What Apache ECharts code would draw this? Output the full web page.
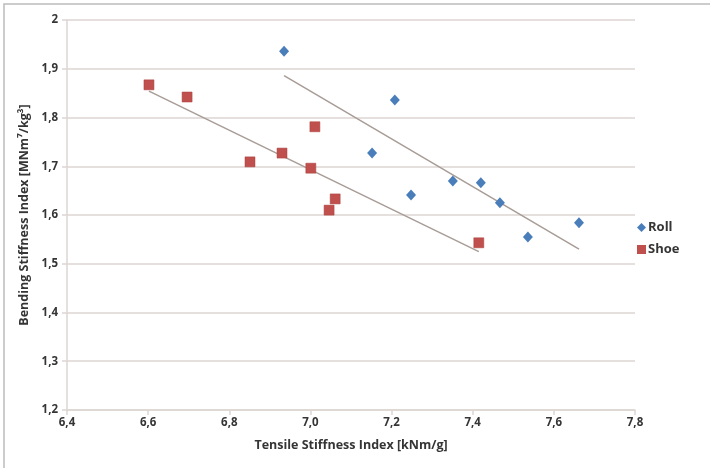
<!DOCTYPE html>
<html>
<head>
<meta charset="utf-8">
<script src="https://cdn.jsdelivr.net/npm/echarts@6/dist/echarts.min.js"></script>
<style>
  html, body { margin: 0; padding: 0; background: #ffffff; }
  #chart { width: 710px; height: 468px; }
</style>
</head>
<body>
<div id="chart"></div>
<script>
// Tensile vs. bending stiffness, roll press vs. shoe press
const rollPoints = [
  [6.935, 1.936], [7.208, 1.836], [7.152, 1.727], [7.248, 1.641], [7.351, 1.670],
  [7.420, 1.666], [7.467, 1.625], [7.536, 1.555], [7.662, 1.584]
];
const shoePoints = [
  [6.602, 1.867], [6.696, 1.842], [6.851, 1.709], [6.930, 1.727], [7.011, 1.781],
  [7.001, 1.696], [7.046, 1.610], [7.061, 1.633], [7.415, 1.543]
];
// Linear trend lines (start / end)
const rollTrend = [[6.935, 1.886], [7.662, 1.530]];
const shoeTrend = [[6.602, 1.854], [7.415, 1.525]];

const xTicks = ['6,4', '6,6', '6,8', '7,0', '7,2', '7,4', '7,6', '7,8'];
const yTicks = ['1,2', '1,3', '1,4', '1,5', '1,6', '1,7', '1,8', '1,9', '2'];

const xMin = 6.4, xStep = 0.2;
const yMin = 1.2, yStep = 0.1;

const font = '"Open Sans", "Liberation Sans", sans-serif';
const textColor = '#353535';
const gridColor = '#ddd6d3';

const chart = echarts.init(document.getElementById('chart'), null, { renderer: 'canvas' });

chart.setOption({
  backgroundColor: '#ffffff',
  animation: false,
  graphic: [{
    type: 'rect',
    shape: { x: 4, y: 4, width: 740, height: 500 },
    style: { fill: 'none', stroke: '#bcbcbc', lineWidth: 1.5 },
    silent: true
  }],
  grid: { left: 67, right: 75, top: 20, bottom: 58 },
  legend: {
    data: ['Roll', 'Shoe'],
    orient: 'vertical',
    left: 632,
    top: 216,
    itemWidth: 9,
    itemHeight: 9,
    itemGap: 9,
    itemStyle: { borderWidth: 0 },
    textStyle: { fontFamily: font, fontSize: 13, fontWeight: 'bold', color: textColor, padding: [0, 0, 0, -3] }
  },
  xAxis: {
    type: 'value',
    min: xMin,
    max: xMin + xStep * (xTicks.length - 1),
    interval: xStep,
    name: 'Tensile Stiffness Index [kNm/g]',
    nameLocation: 'middle',
    nameGap: 29,
    nameTextStyle: { fontFamily: font, fontSize: 12.5, fontWeight: 'bold', color: textColor },
    axisLine: { show: true, lineStyle: { color: gridColor, width: 1.5 } },
    axisTick: { show: true, length: 5, inside: false, lineStyle: { color: gridColor, width: 1.5 } },
    splitLine: { show: false },
    axisLabel: {
      fontFamily: font, fontSize: 11.5, fontWeight: 'bold', color: textColor, margin: 7,
      formatter: v => xTicks[Math.round((v - xMin) / xStep)]
    }
  },
  yAxis: {
    type: 'value',
    min: yMin,
    max: yMin + yStep * (yTicks.length - 1),
    interval: yStep,
    name: 'Bending Stiffness Index [MNm\u2077/kg\u00b3]',
    nameLocation: 'middle',
    nameGap: 35,
    nameRotate: 90,
    nameTextStyle: { fontFamily: font, fontSize: 12.5, fontWeight: 'bold', color: textColor },
    axisLine: { show: true, lineStyle: { color: gridColor, width: 1.5 } },
    axisTick: { show: true, length: 5, inside: false, lineStyle: { color: gridColor, width: 1.5 } },
    splitLine: { show: true, lineStyle: { color: gridColor, width: 1.5 } },
    axisLabel: {
      fontFamily: font, fontSize: 11.5, fontWeight: 'bold', color: textColor, margin: 9,
      formatter: v => yTicks[Math.round((v - yMin) / yStep)]
    }
  },
  series: [
    {
      name: 'Roll trend',
      type: 'line',
      data: rollTrend,
      showSymbol: false,
      silent: true,
      lineStyle: { color: '#a89c97', width: 1.5 },
      z: 1
    },
    {
      name: 'Shoe trend',
      type: 'line',
      data: shoeTrend,
      showSymbol: false,
      silent: true,
      lineStyle: { color: '#a89c97', width: 1.5 },
      z: 1
    },
    {
      name: 'Roll',
      type: 'scatter',
      data: rollPoints,
      symbol: 'diamond',
      symbolSize: [10, 11],
      itemStyle: { color: '#4a7ebb', opacity: 1 },
      z: 3
    },
    {
      name: 'Shoe',
      type: 'scatter',
      data: shoePoints,
      symbol: 'rect',
      symbolSize: 10,
      itemStyle: { color: '#c0504d', borderColor: '#a8403d', borderWidth: 0.5, opacity: 1 },
      z: 3
    }
  ]
});
</script>
</body>
</html>
